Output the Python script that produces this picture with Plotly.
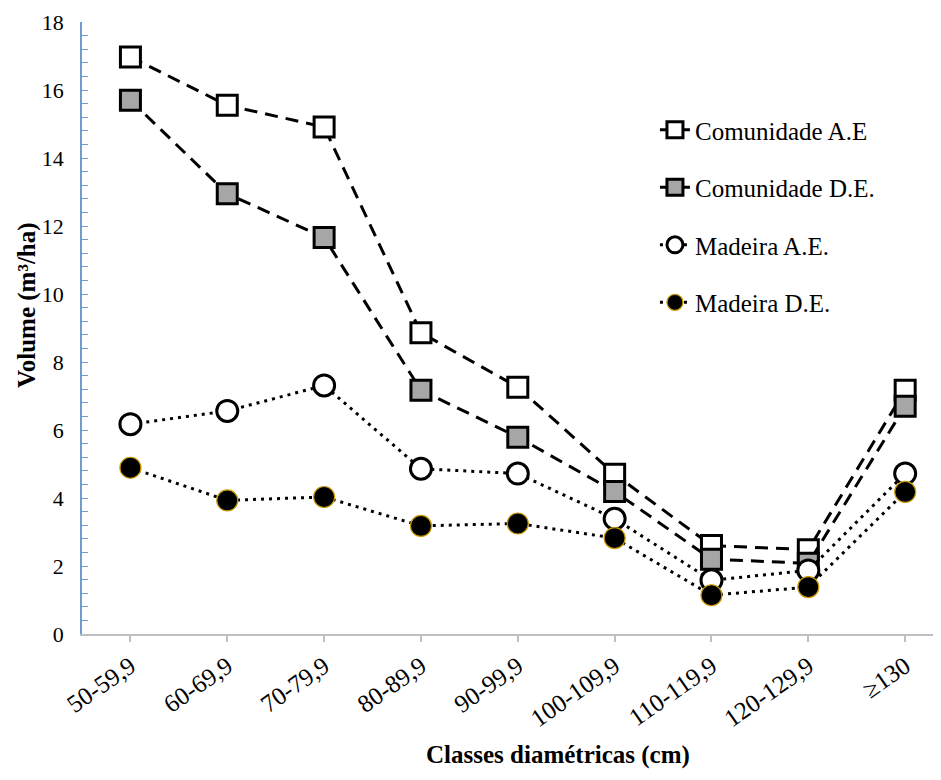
import plotly.graph_objects as go

categories = ["50-59,9", "60-69,9", "70-79,9", "80-89,9", "90-99,9",
              "100-109,9", "110-119,9", "120-129,9", "≥130"]
comunidade_ae = [16.97, 15.55, 14.91, 8.86, 7.26, 4.70, 2.60, 2.48, 7.17]
comunidade_de = [15.70, 12.95, 11.66, 7.17, 5.79, 4.19, 2.20, 2.08, 6.70]
madeira_ae = [6.17, 6.56, 7.31, 4.86, 4.72, 3.39, 1.58, 1.87, 4.72]
madeira_de = [4.89, 3.93, 4.03, 3.18, 3.25, 2.82, 1.14, 1.38, 4.18]
y_ticks = [0, 2, 4, 6, 8, 10, 12, 14, 16, 18]

FONT = "Liberation Serif, Times New Roman, serif"

fig = go.Figure()
fig.add_trace(go.Scatter(
    x=categories, y=comunidade_ae, name="Comunidade A.E", mode="lines+markers",
    legendgroup="a",
    line=dict(color="black", width=3, dash="13px,8px"),
    marker=dict(symbol="square", size=20, color="white", line=dict(color="black", width=3)),
))
fig.add_trace(go.Scatter(
    x=categories, y=comunidade_de, name="Comunidade D.E.", mode="lines+markers",
    legendgroup="b",
    line=dict(color="black", width=3, dash="13px,8px"),
    marker=dict(symbol="square", size=20, color="#a6a6a6", line=dict(color="black", width=3)),
))
fig.add_trace(go.Scatter(
    x=categories, y=madeira_ae, name="Madeira A.E.", mode="lines+markers",
    legendgroup="c",
    line=dict(color="black", width=3, dash="3px,5px"),
    marker=dict(symbol="circle", size=21, color="white", line=dict(color="black", width=3)),
))
fig.add_trace(go.Scatter(
    x=categories, y=madeira_de, name="Madeira D.E.", mode="lines+markers",
    legendgroup="d",
    line=dict(color="black", width=3, dash="3px,5px"),
    marker=dict(symbol="circle", size=21, color="black", line=dict(color="#c99a06", width=1.2)),
))

fig.update_layout(
    width=933, height=772,
    margin=dict(l=74, r=0, t=14, b=146),
    paper_bgcolor="white", plot_bgcolor="white",
    font=dict(family=FONT, color="black", size=20),
    showlegend=True,
    legend=dict(
        x=0.667, y=0.861, xanchor="left", yanchor="top",
        font=dict(family=FONT, size=25, color="black"),
        bgcolor="rgba(0,0,0,0)", tracegroupgap=22,
        itemwidth=30,
    ),
    xaxis=dict(
        type="category", categoryorder="array", categoryarray=categories,
        range=[-0.5, 8.37], automargin=False,
        showline=True, linecolor="#bfbfbf", linewidth=1.5,
        ticks="outside", ticklen=6, tickcolor="#bfbfbf", tickwidth=1.5,
        tickangle=-35, tickfont=dict(family=FONT, size=25),
        showgrid=False, zeroline=False,
    ),
    yaxis=dict(
        range=[0, 18], tickvals=y_ticks, automargin=False,
        showline=True, linecolor="#6f9bd1", linewidth=1.5,
        ticks="inside", ticklen=6, tickcolor="#6f9bd1", tickwidth=1.2,
        minor=dict(dtick=0.4, tick0=0, ticks="inside", ticklen=6, tickcolor="#6f9bd1", tickwidth=1.2, showgrid=False),
        tickfont=dict(family=FONT, size=22),
        ticklabelstandoff=12,
        showgrid=False, zeroline=False,
    ),
    annotations=[
        dict(text="<b>Classes diamétricas (cm)</b>", xref="paper", yref="paper",
             x=(558 - 82) / 859, y=-(755 - 634) / 612, xanchor="center", yanchor="middle",
             showarrow=False, font=dict(family=FONT, size=25)),
        dict(text="<b>Volume (m³/ha)</b>", xref="paper", yref="paper",
             x=-(82 - 27) / 859, y=(634 - 305) / 612, xanchor="center", yanchor="middle",
             textangle=-90, showarrow=False, font=dict(family=FONT, size=25)),
    ],
)

fig.write_html("out.html")
